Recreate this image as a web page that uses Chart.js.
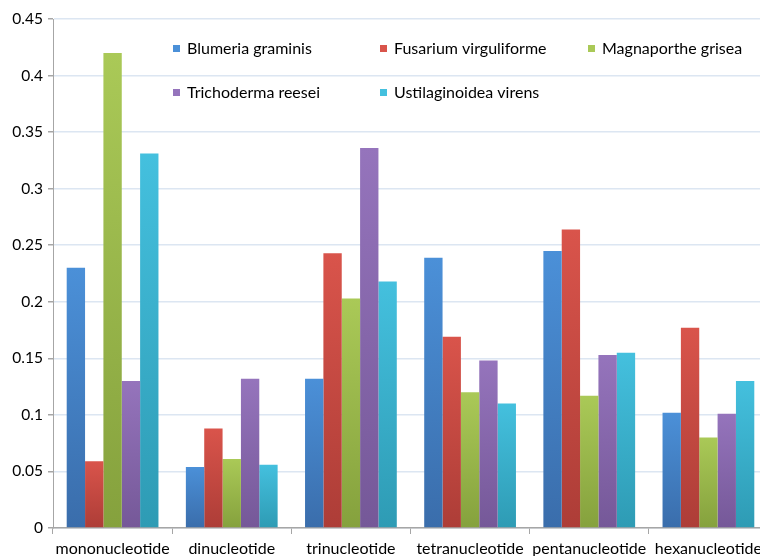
<!DOCTYPE html>
<html>
<head>
<meta charset="utf-8">
<script src="https://cdn.jsdelivr.net/npm/chart.js@4/dist/chart.umd.min.js"></script>
<style>
  html, body { margin: 0; padding: 0; background: #fff; overflow: hidden; }
  #wrap { width: 780px; height: 556px; }
</style>
</head>
<body>
<div id="wrap"><canvas id="repeatChart" width="780" height="556"></canvas></div>
<script>
// Categories and series
const categories = ['mononucleotide', 'dinucleotide', 'trinucleotide', 'tetranucleotide', 'pentanucleotide', 'hexanucleotide'];
const blumeria = [0.230, 0.054, 0.132, 0.239, 0.245, 0.102];
const fusarium = [0.059, 0.088, 0.243, 0.169, 0.264, 0.177];
const magnaporthe = [0.420, 0.061, 0.203, 0.120, 0.117, 0.080];
const trichoderma = [0.130, 0.132, 0.336, 0.148, 0.153, 0.101];
const ustilaginoidea = [0.331, 0.056, 0.218, 0.110, 0.155, 0.130];
const yTicks = [0, 0.05, 0.1, 0.15, 0.2, 0.25, 0.3, 0.35, 0.4, 0.45];

const FONT = 'Lato, "Open Sans", sans-serif';

// top / bottom colour of each series gradient
const palette = [
  ['#4b90d8', '#3a6dab'],
  ['#d9544b', '#ad3d37'],
  ['#aac957', '#85a13d'],
  ['#9574bc', '#755898'],
  ['#44c0de', '#2e9bb4'],
];

function barGradient(idx) {
  return function (ctx) {
    const chart = ctx.chart;
    const y = chart.scales.y;
    if (!y || ctx.raw == null) return palette[idx][0];
    const top = y.getPixelForValue(ctx.raw);
    const bottom = y.getPixelForValue(0);
    if (!isFinite(top) || !isFinite(bottom) || top === bottom) return palette[idx][0];
    const g = chart.ctx.createLinearGradient(0, top, 0, bottom);
    g.addColorStop(0, palette[idx][0]);
    g.addColorStop(1, palette[idx][1]);
    return g;
  };
}

// Legend drawn inside the plot, 3 columns
const insideLegend = {
  id: 'insideLegend',
  afterDraw(chart) {
    const ctx = chart.ctx;
    const cols = [173, 380, 588];
    const rows = [49, 93];
    ctx.save();
    ctx.font = '16px ' + FONT;
    ctx.textBaseline = 'middle';
    chart.data.datasets.forEach((ds, i) => {
      const x = cols[i % 3];
      const y = rows[Math.floor(i / 3)];
      ctx.fillStyle = palette[i][0];
      ctx.fillRect(x, y - 4, 7, 7);
      ctx.fillStyle = '#000';
      ctx.fillText(ds.label, x + 14, y);
    });
    ctx.restore();
  }
};

const names = ['Blumeria graminis', 'Fusarium virguliforme', 'Magnaporthe grisea', 'Trichoderma reesei', 'Ustilaginoidea virens'];
const series = [blumeria, fusarium, magnaporthe, trichoderma, ustilaginoidea];

new Chart(document.getElementById('repeatChart'), {
  type: 'bar',
  data: {
    labels: categories,
    datasets: series.map((vals, i) => ({
      label: names[i],
      data: vals,
      backgroundColor: barGradient(i),
      borderWidth: 0,
      barPercentage: 1.0,
      categoryPercentage: 0.77,
    })),
  },
  options: {
    responsive: false,
    animation: false,
    layout: {
      padding: { top: 19, right: 12, left: 0, bottom: 0 },
    },
    scales: {
      y: {
        min: 0,
        max: 0.45,
        afterFit(scale) { scale.width = 53; },
        afterBuildTicks(scale) { scale.ticks = yTicks.map(v => ({ value: v })); },
        border: { display: true, color: '#a6a6a6', width: 1 },
        grid: {
          color: '#dce6f2',
          lineWidth: 1.5,
          tickLength: 5,
          tickColor: '#a6a6a6',
        },
        ticks: {
          color: '#000',
          padding: 5,
          font: { family: FONT, size: 15.5 },
          callback: v => String(Math.round(v * 100) / 100),
        },
      },
      x: {
        afterFit(scale) { scale.height = 28; },
        border: { display: true, color: '#a6a6a6', width: 1.5 },
        grid: {
          offset: true,
          drawOnChartArea: false,
          drawTicks: true,
          tickLength: 6,
          color: '#a6a6a6',
        },
        ticks: {
          color: '#000',
          padding: 5,
          maxRotation: 0,
          font: { family: FONT, size: 16 },
        },
      },
    },
    plugins: {
      legend: { display: false },
      tooltip: { enabled: false },
    },
  },
  plugins: [insideLegend],
});
</script>
</body>
</html>
